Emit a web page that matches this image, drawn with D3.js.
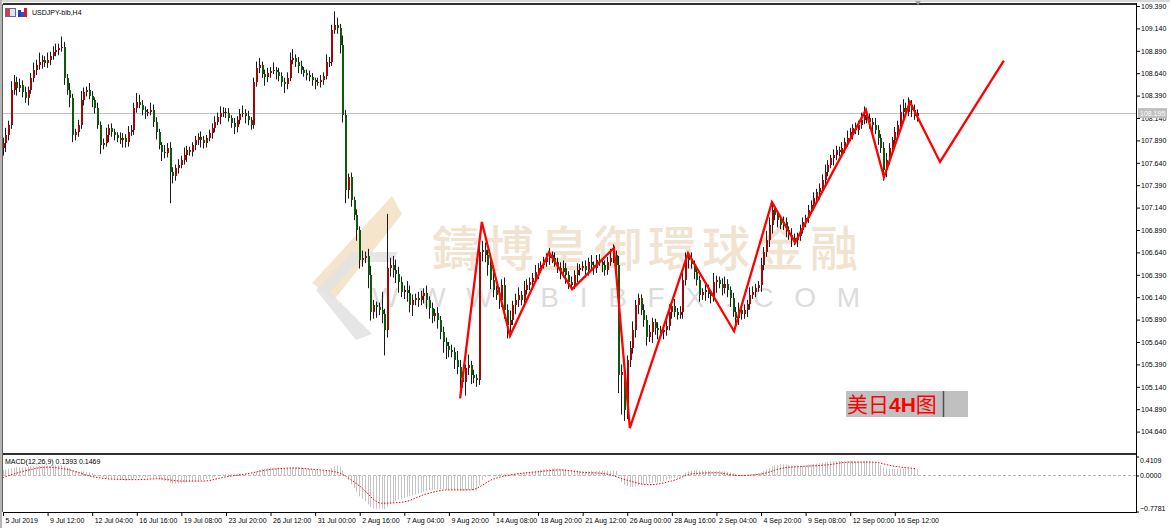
<!DOCTYPE html>
<html>
<head>
<meta charset="utf-8">
<script src="https://cdn.jsdelivr.net/npm/d3@7"></script>
<style>
body { margin: 0; background: #fff; overflow: hidden; }
svg text { font-family: "Liberation Sans", Arial, sans-serif; }
</style>
</head>
<body>
<script>
// USDJPY H4, one bar every 4 hours from 5 Jul 2019 00:00
const firstOpen = 107.80;
const closes = [
107.86,107.95,108.06,108.45,108.54,108.47,108.51,108.43,108.36,108.45,
108.59,108.68,108.73,108.77,108.79,108.75,108.79,108.83,108.88,108.90,
108.92,108.93,108.59,108.45,108.36,107.95,107.98,108.06,108.34,108.43,
108.45,108.39,108.34,108.25,108.06,107.84,107.86,107.95,108.03,107.98,
107.95,107.92,107.89,107.92,107.87,107.98,108.01,108.25,108.32,108.29,
108.23,108.21,108.21,108.23,108.10,107.98,107.84,107.76,107.75,107.81,
107.54,107.49,107.58,107.62,107.67,107.73,107.78,107.76,107.84,107.89,
107.93,107.89,107.86,107.92,107.97,108.03,108.10,108.15,108.20,108.21,
108.20,108.14,108.08,108.04,108.12,108.19,108.20,108.16,108.12,108.06,
108.54,108.70,108.73,108.63,108.60,108.64,108.67,108.68,108.65,108.61,
108.54,108.52,108.59,108.79,108.81,108.77,108.72,108.68,108.64,108.62,
108.60,108.56,108.54,108.54,108.56,108.61,108.77,108.77,109.12,109.18,
109.14,108.96,108.17,107.34,107.48,107.23,107.06,106.89,106.56,106.58,
106.60,106.39,105.98,106.05,106.03,106.00,105.95,105.77,106.47,106.50,
106.44,106.40,106.31,106.20,106.22,106.19,106.05,106.11,106.13,106.11,
106.15,106.19,106.11,106.02,105.93,105.96,105.89,105.75,105.64,105.60,
105.55,105.53,105.44,105.36,105.24,105.19,105.35,105.38,105.27,105.24,
105.22,106.64,106.67,106.61,106.50,106.33,106.22,106.17,106.11,106.28,
106.00,105.83,105.89,106.05,106.11,106.17,106.11,106.22,106.28,106.31,
106.35,106.42,106.47,106.50,106.53,106.58,106.61,106.58,106.53,106.47,
106.42,106.47,106.39,106.31,106.28,106.39,106.44,106.47,106.49,106.44,
106.53,106.50,106.47,106.56,106.53,106.50,106.44,106.53,106.58,106.61,
106.50,105.27,105.31,104.88,105.44,105.57,105.77,106.05,106.13,106.00,
105.89,105.70,105.75,105.86,105.80,105.77,105.75,105.77,105.82,105.98,
106.04,105.98,105.94,105.98,106.33,106.58,106.56,106.51,106.42,106.33,
106.17,106.20,106.22,106.18,106.15,106.31,106.33,106.29,106.24,106.29,
106.22,106.13,105.98,105.91,106.00,105.95,106.00,106.06,106.17,106.20,
106.24,106.28,106.50,106.64,106.78,106.95,107.11,107.06,107.00,106.95,
106.98,106.89,106.83,106.80,106.78,106.82,106.89,106.98,107.02,107.11,
107.17,107.25,107.31,107.36,107.45,107.54,107.62,107.69,107.73,107.78,
107.76,107.81,107.87,107.92,107.98,108.03,108.01,108.06,108.12,108.17,
108.14,108.10,108.06,108.01,107.92,107.81,107.56,107.67,107.81,107.89,
107.98,108.06,108.21,108.25,108.21,108.29,108.23,108.16,108.195
];
// wick above max(open,close) and below min(open,close), in hundredths of a yen
const wickHi = [
6,8,5,10,8,6,7,5,6,4, 5,8,6,10,5,4,8,5,6,7, 5,12,6,4,8,5,4,6,10,5, 4,8,5,3,6,4,5,8,4,5,
4,3,6,5,4,7,5,6,10,8, 5,4,3,8,6,5,4,3,8,5, 6,5,4,6,5,8,5,4,3,5, 4,6,5,3,4,5,6,5,7,5,
4,5,3,6,4,5,8,4,6,3, 5,7,8,4,5,6,4,8,3,5, 4,5,6,8,10,4,5,6,3,4, 5,4,3,5,6,4,8,5,6,15,
8,5,10,6,4,5,3,6,4,8, 5,8,10,6,4,5,20,6,60,8, 10,12,8,6,5,10,8,6,5,7, 6,5,8,4,6,5,7,4,6,5,
4,6,5,10,8,6,4,12,5,6, 4,20,10,8,6,12,15,5,8,6, 8,6,10,5,7,8,4,10,6,5, 6,8,5,4,6,5,8,4,6,5,
6,8,5,4,6,5,8,4,5,6, 5,8,4,5,6,4,5,6,10,12, 5,10,8,6,5,8,10,6,5,4, 6,5,8,5,4,6,5,4,6,8,
5,8,4,6,8,6,5,8,4,6, 5,4,8,6,4,10,5,4,6,8, 5,4,6,5,8,4,6,5,8,6, 5,4,8,6,10,8,10,6,5,4,
6,5,4,8,5,4,6,5,4,6, 5,6,4,5,6,8,5,4,6,5, 4,6,5,8,5,4,6,5,8,10, 6,5,4,8,5,4,6,8,5,4,
6,5,8,10,6,8,5,6,4
];
const wickLo = [
8,10,6,4,5,8,4,6,5,8, 4,5,6,5,8,4,5,6,4,5, 6,4,8,5,10,8,6,5,4,6, 5,4,8,6,4,10,5,4,8,5,
6,5,4,8,6,5,4,6,5,4, 6,8,5,4,6,8,5,10,6,5, 35,8,5,6,4,5,8,4,5,6, 5,8,6,5,4,6,5,4,8,5,
6,4,5,8,6,5,4,8,6,5, 4,5,6,4,10,6,5,4,8,6, 5,10,6,4,5,6,8,5,4,6, 5,6,8,4,6,5,4,6,5,4,
6,10,8,15,10,8,6,12,10,8, 6,15,10,8,12,6,10,28,8,10, 8,10,12,6,8,10,8,12,6,8, 6,8,10,12,8,6,10,8,12,15,
8,6,10,8,12,6,15,8,10,6, 8,6,10,8,12,10,8,6,10,8, 10,15,8,6,10,8,6,8,5,6, 6,5,8,6,4,5,8,6,5,6,
8,6,10,8,6,5,8,6,4,8, 6,5,8,6,4,8,6,5,4,6, 8,20,44,12,10,8,6,8,10,6, 8,10,6,12,8,10,6,8,6,5,
8,6,5,4,8,6,10,5,8,6, 8,6,10,5,8,6,12,5,8,6, 8,10,6,12,8,6,5,8,6,5, 6,4,8,6,5,8,10,6,8,5,
6,8,5,10,6,8,5,4,6,5, 4,6,5,8,4,6,5,4,8,6, 5,4,6,5,4,8,5,6,4,5, 6,8,10,5,8,6,12,8,5,6,
5,6,4,8,6,5,8,4,6
];
const macdHist = [
0.12,0.13,0.14,0.16,0.17,0.18,0.18,0.18,0.18,0.19,
0.19,0.2,0.2,0.21,0.21,0.21,0.21,0.21,0.22,0.22,
0.22,0.22,0.2,0.18,0.16,0.11,0.09,0.08,0.09,0.09,
0.08,0.07,0.05,0.03,0.01,-0.02,-0.04,-0.05,-0.05,-0.06,
-0.07,-0.08,-0.09,-0.1,-0.11,-0.1,-0.1,-0.07,-0.05,-0.04,
-0.04,-0.04,-0.04,-0.04,-0.05,-0.06,-0.08,-0.1,-0.12,-0.12,
-0.15,-0.17,-0.17,-0.17,-0.17,-0.16,-0.15,-0.14,-0.13,-0.12,
-0.11,-0.1,-0.1,-0.08,-0.07,-0.05,-0.03,-0.01,0.01,0.02,
0.03,0.03,0.03,0.02,0.02,0.03,0.03,0.03,0.02,0.01,
0.05,0.09,0.12,0.14,0.15,0.16,0.17,0.17,0.17,0.17,
0.16,0.15,0.15,0.17,0.18,0.18,0.18,0.17,0.16,0.15,
0.14,0.13,0.12,0.11,0.1,0.1,0.11,0.11,0.16,0.2,
0.22,0.2,0.12,-0.02,-0.1,-0.19,-0.27,-0.35,-0.45,-0.51,
-0.56,-0.62,-0.68,-0.71,-0.72,-0.72,-0.72,-0.73,-0.67,-0.62,
-0.58,-0.55,-0.52,-0.5,-0.48,-0.46,-0.45,-0.43,-0.41,-0.39,
-0.37,-0.35,-0.33,-0.32,-0.31,-0.3,-0.3,-0.3,-0.3,-0.3,
-0.3,-0.3,-0.31,-0.32,-0.33,-0.34,-0.33,-0.32,-0.32,-0.32,
-0.32,-0.2,-0.1,-0.04,-0.01,0.0,0.01,0.02,0.03,0.04,
0.03,0.02,0.02,0.03,0.04,0.05,0.05,0.06,0.07,0.08,
0.09,0.1,0.11,0.12,0.13,0.14,0.15,0.15,0.15,0.15,
0.14,0.14,0.13,0.12,0.11,0.11,0.11,0.1,0.1,0.1,
0.1,0.1,0.09,0.1,0.1,0.1,0.09,0.1,0.1,0.11,
0.1,-0.02,-0.14,-0.2,-0.23,-0.25,-0.25,-0.24,-0.22,-0.2,
-0.19,-0.18,-0.17,-0.16,-0.15,-0.14,-0.13,-0.12,-0.1,-0.08,
-0.06,-0.05,-0.04,-0.03,0.01,0.06,0.09,0.11,0.12,0.12,
0.11,0.11,0.11,0.1,0.1,0.1,0.1,0.1,0.09,0.09,
0.08,0.07,0.05,0.03,0.02,0.01,0.01,0.01,0.02,0.03,
0.04,0.05,0.07,0.1,0.13,0.16,0.2,0.22,0.23,0.24,
0.24,0.24,0.23,0.22,0.21,0.21,0.21,0.21,0.22,0.23,
0.24,0.25,0.26,0.27,0.28,0.29,0.3,0.31,0.31,0.31,
0.31,0.31,0.31,0.31,0.31,0.31,0.31,0.31,0.31,0.31,
0.31,0.3,0.29,0.27,0.25,0.22,0.17,0.15,0.14,0.14,
0.14,0.14,0.15,0.15,0.15,0.15,0.14,0.14,0.1393
];
// signal line, read every 8 bars
const signalStep = 8;
const macdSignal = [-0.05,0.1,0.18,0.12,-0.02,-0.08,-0.09,-0.07,-0.12,-0.12,-0.03,0.04,0.13,0.16,0.13,0.07,
  -0.22,-0.6,-0.57,-0.4,-0.31,-0.31,-0.08,0.03,0.08,0.12,0.07,0.04,-0.1,-0.2,-0.12,0.04,0.06,0.0,0.03,0.16,
  0.2,0.23,0.29,0.29,0.2,0.1469];
// hand drawn red zigzag (bar index, price)
const zigIdx = [164.2,172,182.1,196.1,204.4,219.4,225.1,246,262.5,276.1,284.4,309.8,316.3,325.6,336.4,359.3];
const zigPrice = [105.01,106.98,105.71,106.64,106.23,106.69,104.68,106.63,105.76,107.20,106.75,108.23,107.48,108.32,107.65,108.78];

const timeLabels = ["5 Jul 2019","9 Jul 12:00","12 Jul 04:00","16 Jul 16:00","19 Jul 08:00","23 Jul 20:00",
  "26 Jul 12:00","31 Jul 00:00","2 Aug 16:00","7 Aug 04:00","9 Aug 20:00","14 Aug 08:00","18 Aug 20:00",
  "21 Aug 12:00","26 Aug 00:00","28 Aug 16:00","2 Sep 04:00","4 Sep 20:00","9 Sep 08:00","12 Sep 00:00","16 Sep 12:00"];
const labelEvery = 16;
const priceTicks = [109.39,109.14,108.89,108.64,108.39,108.14,107.89,107.64,107.39,107.14,106.89,106.64,
  106.39,106.14,105.89,105.64,105.39,105.14,104.89,104.64];
const macdTicks = [0.4109, 0, -0.7781];
const lastPrice = 108.195;

let width = 1170, height = 528;
let left = 3, right = 1136;
let mainTop = 4, mainBottom = 453;
let macdTop = 456, macdBottom = 512;

var svg = d3.select("body")
            .append("svg")
            .attr("width", width)
            .attr("height", height);

var xScale = d3.scaleLinear()
            .domain([0, 320])
            .range([2.5, 894.3]);

var yScale = d3.scaleLinear()
            .domain([104.64, 109.39])
            .range([431.6, 6]);

var mScale = d3.scaleLinear()
            .domain([-0.7781, 0.4109])
            .range([511.5, 456.5]);

svg.append("defs").append("clipPath").attr("id", "mainClip")
   .append("rect").attr("x", left).attr("y", mainTop + 1).attr("width", right - left).attr("height", mainBottom - mainTop - 2);
svg.select("defs").append("clipPath").attr("id", "macdClip")
   .append("rect").attr("x", left).attr("y", macdTop).attr("width", right - left).attr("height", macdBottom - macdTop);

// window frame
svg.append("rect").attr("x", 0).attr("y", 0).attr("width", width).attr("height", 2).attr("fill", "#d8d8d8");
svg.append("rect").attr("x", 0).attr("y", 0).attr("width", 2).attr("height", height).attr("fill", "#b4b4b4");

// watermark
let wm = svg.append("g").attr("class", "watermark");
wm.append("path")
  .attr("d", "M312,283 L392,196 L402,214 L334,300 Z")
  .attr("fill", "#f3e2c2").attr("opacity", 0.85);
wm.append("path")
  .attr("d", "M316,290 L352,252 L398,252 L392,262 L358,262 L330,292 L372,334 L356,340 Z")
  .attr("fill", "#e2e2e2").attr("opacity", 0.85);
wm.append("text")
  .attr("x", 432).attr("y", 266)
  .attr("textLength", 426).attr("lengthAdjust", "spacing")
  .style("font-family", "'Noto Sans CJK TC', 'Noto Sans CJK SC', sans-serif")
  .style("font-size", "48px").style("font-weight", "500")
  .attr("fill", "#f1e3cf")
  .text("鑄博皇御環球金融");
wm.append("text")
  .attr("x", 372).attr("y", 307)
  .attr("textLength", 488).attr("lengthAdjust", "spacing")
  .style("font-size", "28px")
  .attr("fill", "#dcdcdc")
  .text("WWW.BIBFX.COM");

// current price line
svg.append("line")
   .attr("x1", left).attr("x2", right)
   .attr("y1", Math.round(yScale(lastPrice)) + 0.5).attr("y2", Math.round(yScale(lastPrice)) + 0.5)
   .style("stroke", "#c0c0c0");

// candles
let bars = closes.map((c, i) => {
    let o = i === 0 ? firstOpen : closes[i - 1];
    return {
        i, o, c,
        h: Math.max(o, c) + wickHi[i] / 100,
        l: Math.min(o, c) - wickLo[i] / 100
    };
});

let candles = svg.append("g").attr("clip-path", "url(#mainClip)");
candles.selectAll("line.wick")
    .data(bars)
    .enter()
    .append("line")
    .attr("class", "wick")
    .attr("x1", (d) => Math.round(xScale(d.i)) + 0.5)
    .attr("x2", (d) => Math.round(xScale(d.i)) + 0.5)
    .attr("y1", (d) => yScale(d.h))
    .attr("y2", (d) => yScale(d.l))
    .style("stroke", "#1a1a1a")
    .style("stroke-width", 1);

candles.selectAll("rect.body")
    .data(bars)
    .enter()
    .append("rect")
    .attr("class", "body")
    .attr("x", (d) => Math.round(xScale(d.i)))
    .attr("width", 2)
    .attr("y", (d) => yScale(Math.max(d.o, d.c)))
    .attr("height", (d) => Math.max(1, Math.abs(yScale(d.o) - yScale(d.c))))
    .attr("fill", (d) => d.c >= d.o ? "#a00808" : "#0b5a0b")
    .attr("shape-rendering", "crispEdges");

// red zigzag
let zig = zigIdx.map((v, k) => [v, zigPrice[k]]);
candles.append("path")
    .datum(zig)
    .attr("d", d3.line().x((d) => xScale(d[0])).y((d) => yScale(d[1])))
    .attr("fill", "none")
    .style("stroke", "#ff0000")
    .style("stroke-width", 2.3)
    .style("stroke-linejoin", "miter");

// MACD panel
let macd = svg.append("g").attr("clip-path", "url(#macdClip)");
macd.append("line")
    .attr("x1", left).attr("x2", right)
    .attr("y1", mScale(0)).attr("y2", mScale(0))
    .style("stroke", "#b8b8b8").style("stroke-dasharray", "3,2");
macd.selectAll("line.hist")
    .data(macdHist)
    .enter()
    .append("line")
    .attr("class", "hist")
    .attr("x1", (d, i) => Math.round(xScale(i)) + 0.5)
    .attr("x2", (d, i) => Math.round(xScale(i)) + 0.5)
    .attr("y1", mScale(0))
    .attr("y2", (d) => mScale(d))
    .style("stroke", "#c4c4c4");
macd.append("path")
    .datum(macdSignal)
    .attr("d", d3.line().x((d, k) => xScale(k * signalStep)).y((d) => mScale(d)).curve(d3.curveMonotoneX))
    .attr("fill", "none")
    .style("stroke", "#ff0000")
    .style("stroke-width", 1)
    .style("stroke-dasharray", "1.5,1.5");

// panel borders
svg.append("rect").attr("x", left).attr("y", mainTop - 1).attr("width", right - left).attr("height", 2).attr("fill", "#303030");
svg.append("rect").attr("x", left).attr("y", mainBottom).attr("width", right - left).attr("height", 2).attr("fill", "#303030");
svg.append("line").attr("x1", left).attr("x2", right).attr("y1", macdBottom + 0.5).attr("y2", macdBottom + 0.5).style("stroke", "#000");
svg.append("line").attr("x1", left - 0.5).attr("x2", left - 0.5).attr("y1", mainTop).attr("y2", macdBottom).style("stroke", "#606060");
svg.append("line").attr("x1", right + 0.5).attr("x2", right + 0.5).attr("y1", mainTop - 1).attr("y2", macdBottom + 1).style("stroke", "#000");

// price axis
var yAxis = d3.axisRight(yScale).tickValues(priceTicks).tickSize(3).tickFormat(d3.format(".3f"));
let yg = svg.append("g").attr("transform", `translate(${right + 1}, 0)`).call(yAxis);
yg.select(".domain").remove();
yg.selectAll("text").attr("x", 4).style("font-size", "7px").style("font-family", "'Liberation Sans', Arial").attr("fill", "#000");

// last price tag
svg.append("rect")
   .attr("x", right + 2).attr("y", yScale(lastPrice) - 5)
   .attr("width", 29).attr("height", 10)
   .attr("fill", "#c0c0c0");
svg.append("text")
   .attr("x", right + 4).attr("y", yScale(lastPrice) + 2.5)
   .style("font-size", "7px").attr("fill", "#fff")
   .text(d3.format(".3f")(lastPrice));

// macd axis
var mAxis = d3.axisRight(mScale).tickValues(macdTicks).tickSize(2).tickFormat(d3.format(".4f"));
let mg = svg.append("g").attr("transform", `translate(${right + 1}, 0)`).call(mAxis);
mg.select(".domain").remove();
mg.selectAll("text").attr("x", 3).style("font-size", "7px").style("font-family", "'Liberation Sans', Arial").attr("fill", "#000")
  .attr("dy", (d, i) => i === 0 ? "0.9em" : (i === 2 ? "-0.1em" : "0.32em"));

// time axis
var xAxis = d3.axisBottom(xScale)
            .tickValues(d3.range(0, timeLabels.length * labelEvery, labelEvery))
            .tickSize(4)
            .tickFormat((d, i) => timeLabels[i]);
let xg = svg.append("g").attr("transform", `translate(0.5, ${macdBottom})`).call(xAxis);
xg.select(".domain").remove();
xg.selectAll("text").attr("text-anchor", "start").attr("x", 2).attr("y", 6)
  .style("font-size", "7px").style("font-family", "'Liberation Sans', Arial").attr("fill", "#000");

// header
let hd = svg.append("g");
hd.append("rect").attr("x", 5.5).attr("y", 8.5).attr("width", 10).attr("height", 8).attr("fill", "#dfe4f4").style("stroke", "#5a6aa8");
hd.append("rect").attr("x", 6).attr("y", 9).attr("width", 4).attr("height", 7).attr("fill", "#d04040");
hd.append("rect").attr("x", 18).attr("y", 10).attr("width", 3).attr("height", 7).attr("fill", "#2a3cc8");
hd.append("rect").attr("x", 21).attr("y", 12).attr("width", 3).attr("height", 5).attr("fill", "#3a4ad8");
hd.append("rect").attr("x", 24).attr("y", 8).attr("width", 3).attr("height", 9).attr("fill", "#d02020");
hd.append("text").attr("x", 32).attr("y", 15).style("font-size", "7px").attr("fill", "#000").text("USDJPY-bib,H4");
svg.append("text").attr("x", 5).attr("y", 464).style("font-size", "7px").attr("fill", "#000")
   .text("MACD(12,26,9) " + macdHist[macdHist.length - 1].toFixed(4) + " " + macdSignal[macdSignal.length - 1].toFixed(4));

// shift marker at top
svg.append("path").attr("d", "M915,1 L921,1 L918,5 Z").attr("fill", "#a0a0a0");

// label box
let lb = svg.append("g");
lb.append("rect").attr("x", 846).attr("y", 391).attr("width", 122).attr("height", 26).attr("fill", "#c0c0c0");
lb.append("line").attr("x1", 943.5).attr("x2", 943.5).attr("y1", 391).attr("y2", 417).style("stroke", "#505050").style("stroke-width", 1.5);
let lt = lb.append("text").attr("x", 847).attr("y", 412).attr("fill", "#ff0000").style("font-size", "21px");
lt.append("tspan").style("font-family", "'Noto Sans CJK SC', sans-serif").text("美日");
lt.append("tspan").style("font-family", "'Liberation Sans', Arial").style("font-weight", "bold").text("4H");
lt.append("tspan").style("font-family", "'Noto Sans CJK SC', sans-serif").text("图");
</script>
</body>
</html>
